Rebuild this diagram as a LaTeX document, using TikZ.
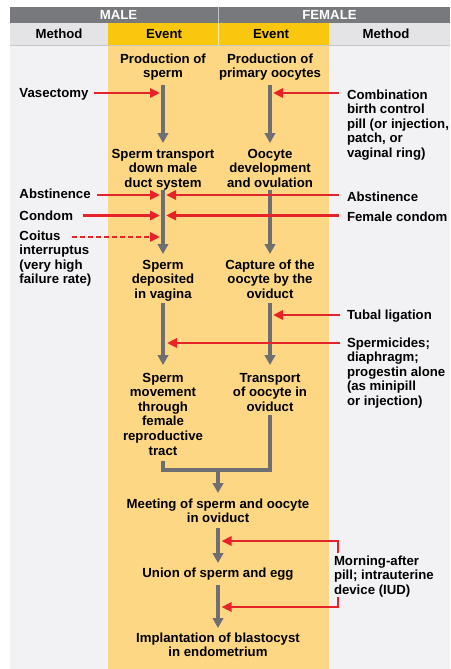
\documentclass[tikz,border=0pt]{standalone}
\usepackage{fontspec}
\setmainfont{Liberation Sans}
\usetikzlibrary{arrows.meta,calc}
\definecolor{hdrdark}{RGB}{120,121,124}
\definecolor{hdrlight}{RGB}{228,228,231}
\definecolor{bodygray}{RGB}{242,242,245}
\definecolor{evtyellow}{RGB}{249,199,14}
\definecolor{bodyyellow}{RGB}{253,215,131}
\definecolor{flowgray}{RGB}{110,111,114}
\definecolor{flowred}{RGB}{230,35,40}
\newcommand\topst{\rule{0pt}{10pt}}
\newcommand\botst{\rule[-3pt]{0pt}{3pt}}
\tikzset{
  txt/.style={font=\bfseries\fontsize{13.2}{14.6}\selectfont, inner sep=0pt, outer sep=0pt},
  evt/.style={txt, align=center, anchor=north},
  mth/.style={txt, align=left, anchor=north west},
  hdr/.style={font=\bfseries\fontsize{13.2}{14.6}\selectfont, inner sep=0pt, anchor=base},
  garrow/.style={draw=flowgray, line width=3.4pt, -{Triangle[width=10.5pt,length=10pt]}},
  gline/.style={draw=flowgray, line width=3.4pt, line join=miter},
  rarrow/.style={draw=flowred, line width=2.8pt, -{Triangle[width=9pt,length=10pt]}},
}
\begin{document}
\begin{tikzpicture}[x=1pt,y=-1pt]
\useasboundingbox (0,0) rectangle (450,669);
% backgrounds
\fill[white] (0,0) rectangle (450,669);
\fill[bodygray] (10,45) rectangle (450,669);
\fill[bodyyellow] (108,45) rectangle (329,669);
\fill[hdrdark] (10,7) rectangle (450,23);
\fill[hdrlight] (10,23) rectangle (450,45);
\fill[evtyellow] (108,23) rectangle (329,45);
\draw[white!55!hdrdark, line width=0.8pt] (218,7) -- (218,23);
\draw[white!60!evtyellow, line width=0.6pt] (218,23) -- (218,45);
\draw[black!22, line width=0.8pt] (10,45.4) -- (450,45.4);
% headers
\node[hdr, text=white] (male) at (118.5,20) {MALE};
\node[hdr, text=white] (female) at (329.5,20) {FEMALE};
\node[hdr] (mthl) at (59,39) {Method};
\node[hdr] (evl) at (164,39) {Event};
\node[hdr] (evr) at (271,39) {Event};
\node[hdr] (mthr) at (386,39) {Method};
% events
\node[evt] (n1) at (163,53) {\topst Production of\\sperm\botst};
\node[evt] (n2) at (270,53) {\topst Production of\\primary oocytes\botst};
\node[evt] (n3) at (163,148) {\topst Sperm transport\\down male\\duct system\botst};
\node[evt] (n4) at (270,148) {\topst Oocyte\\development\\and ovulation\botst};
\node[evt] (n5) at (163,259) {\topst Sperm\\deposited\\in vagina\botst};
\node[evt] (n6) at (270,259) {\topst Capture of the\\oocyte by the\\oviduct\botst};
\node[evt] (n7) at (163,372) {\topst Sperm\\movement\\through\\female\\reproductive\\tract\botst};
\node[evt] (n8) at (270,372) {\topst Transport\\of oocyte in\\oviduct\botst};
\node[evt] (n9) at (218,498) {\topst Meeting of sperm and oocyte\\in oviduct\botst};
\node[evt] (n10) at (218,567) {\topst Union of sperm and egg\botst};
\node[evt] (n11) at (218,632) {\topst Implantation of blastocyst\\in endometrium\botst};
% methods
\node[mth] (vas) at (19.5,87) {\topst Vasectomy\botst};
\node[mth] (comb) at (347,89) {\topst Combination\\birth control\\pill (or injection,\\patch, or\\vaginal ring)\botst};
\node[mth] (absl) at (19.5,188) {\topst Abstinence\botst};
\node[mth] (absr) at (347,191) {\topst Abstinence\botst};
\node[mth] (cond) at (19.5,210) {\topst Condom\botst};
\node[mth] (fcond) at (347,211) {\topst Female condom\botst};
\node[mth] (coit) at (19.5,230) {\topst Coitus\\interruptus\\(very high\\failure rate)\botst};
\node[mth] (tub) at (347,309) {\topst Tubal ligation\botst};
\node[mth] (spc) at (347,337) {\topst Spermicides;\\diaphragm;\\progestin alone\\(as minipill\\or injection)\botst};
\node[mth] (morn) at (334,555) {\topst Morning-after\\pill; intrauterine\\device (IUD)\botst};
% gray flow
\draw[garrow, shorten <=4.4pt, shorten >=5pt] (n1.south) -- (n3.north);
\draw[garrow, shorten <=4.4pt, shorten >=5pt] (n2.south) -- (n4.north);
\draw[garrow, shorten <=0pt, shorten >=5pt] (n3.south) -- (n5.north);
\draw[garrow, shorten <=0pt, shorten >=5pt] (n4.south) -- (n6.north);
\draw[garrow, shorten <=2pt, shorten >=7pt] (n5.south) -- (n7.north);
\draw[garrow, shorten <=2pt, shorten >=7pt] (n6.south) -- (n8.north);
\coordinate (jn) at (218,470);
\draw[gline] ([yshift=-3pt]n7.south) -- (n7.south |- jn) -- (n8.south |- jn) -- ([yshift=-1pt]n8.south);
\draw[garrow, shorten >=5pt] (jn) -- (n9.north);
\draw[garrow, shorten <=2.4pt, shorten >=4pt] (n9.south) -- (n10.north);
\draw[garrow, shorten <=5pt, shorten >=4pt] (n10.south) -- (n11.north);
% red method arrows
\coordinate (ve) at (160,93);
\coordinate (cbe) at (273,93);
\coordinate (ale) at (160,195);
\coordinate (are) at (166,195);
\coordinate (cde) at (160,215.5);
\coordinate (fce) at (166,215.5);
\coordinate (coe) at (160,237);
\coordinate (tle) at (273,315);
\coordinate (spe) at (167,343);
\coordinate (me1) at (221.5,541);
\coordinate (me2) at (221.5,607);
\draw[rarrow, shorten <=6pt] (vas.east |- ve) -- (ve);
\draw[rarrow, shorten <=8pt] (comb.west |- cbe) -- (cbe);
\draw[rarrow, shorten <=6.4pt] (absl.east |- ale) -- (ale);
\draw[rarrow, shorten <=8pt] (absr.west |- are) -- (are);
\draw[rarrow, shorten <=10pt] (cond.east |- cde) -- (cde);
\draw[rarrow, shorten <=8pt] (fcond.west |- fce) -- (fce);
\draw[rarrow, dash pattern=on 4.5pt off 3.5pt, shorten <=52.5pt] (coit.west |- coe) -- (coe);
\draw[rarrow, shorten <=7pt] (tub.west |- tle) -- (tle);
\draw[rarrow, shorten <=7pt] (spc.west |- spe) -- (spe);
\draw[rarrow] ($(morn.north west)+(4,-2)$) |- (me1);
\draw[rarrow] ($(morn.south west)+(4,0)$) |- (me2);
\end{tikzpicture}
\end{document}
